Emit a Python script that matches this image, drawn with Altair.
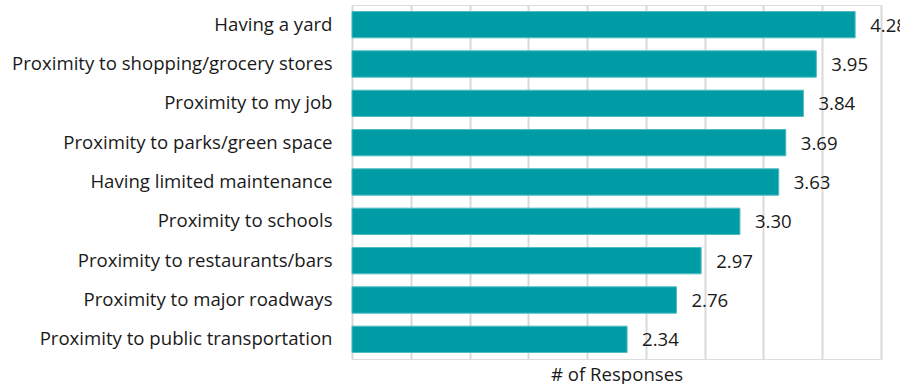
import altair as alt
import pandas as pd

categories = [
    "Having a yard",
    "Proximity to shopping/grocery stores",
    "Proximity to my job",
    "Proximity to parks/green space",
    "Having limited maintenance",
    "Proximity to schools",
    "Proximity to restaurants/bars",
    "Proximity to major roadways\u00a0",
    "Proximity to public transportation",
]
values = [4.28, 3.95, 3.84, 3.69, 3.63, 3.30, 2.97, 2.76, 2.34]
labels = ["4.28", "3.95", "3.84", "3.69", "3.63", "3.30", "2.97", "2.76", "2.34"]

df = pd.DataFrame({"cat": categories, "val": values, "lab": labels})

FONT = "Open Sans"
TEAL = "#009ca5"
FS = 18.6

y_enc = alt.Y(
    "cat:N",
    sort=categories,
    scale=alt.Scale(paddingInner=0.33, paddingOuter=0.165),
    axis=alt.Axis(
        title=None,
        domain=False,
        ticks=False,
        labelPadding=20,
        labelFontSize=FS,
        labelFont=FONT,
        labelColor="#1a1a1a",
        labelLimit=0,
        grid=False,
    ),
)

x_enc = alt.X(
    "val:Q",
    scale=alt.Scale(domain=[0, 4.5], nice=False),
    axis=alt.Axis(
        title="# of Responses",
        titleFont=FONT,
        titleFontSize=FS,
        titleFontWeight="normal",
        titleColor="#1a1a1a",
        titlePadding=6,
        values=[0, 0.5, 1, 1.5, 2, 2.5, 3, 3.5, 4, 4.5],
        labels=False,
        ticks=False,
        domain=False,
        grid=True,
        gridColor="#d9d9d9",
        gridWidth=2,
    ),
)

bars = alt.Chart(df).mark_bar(color=TEAL, stroke="#4fbcc1", strokeWidth=1).encode(
    x=x_enc, y=y_enc
)

text = alt.Chart(df).mark_text(
    align="left", baseline="middle", dx=15, dy=1, font=FONT, fontSize=FS, color="#1a1a1a"
).encode(
    x=alt.X("val:Q"),
    y=alt.Y("cat:N", sort=categories),
    text="lab:N",
)

chart = (
    alt.layer(bars, text)
    .properties(
        width=529,
        height=354,
        autosize=alt.AutoSizeParams(type="none"),
        padding={"left": 352, "top": 5, "right": 19, "bottom": 25},
    )
    .configure_view(stroke=None)
    .configure(background="white")
)

chart.save("out.html", embed_options={"renderer": "svg", "actions": False})
